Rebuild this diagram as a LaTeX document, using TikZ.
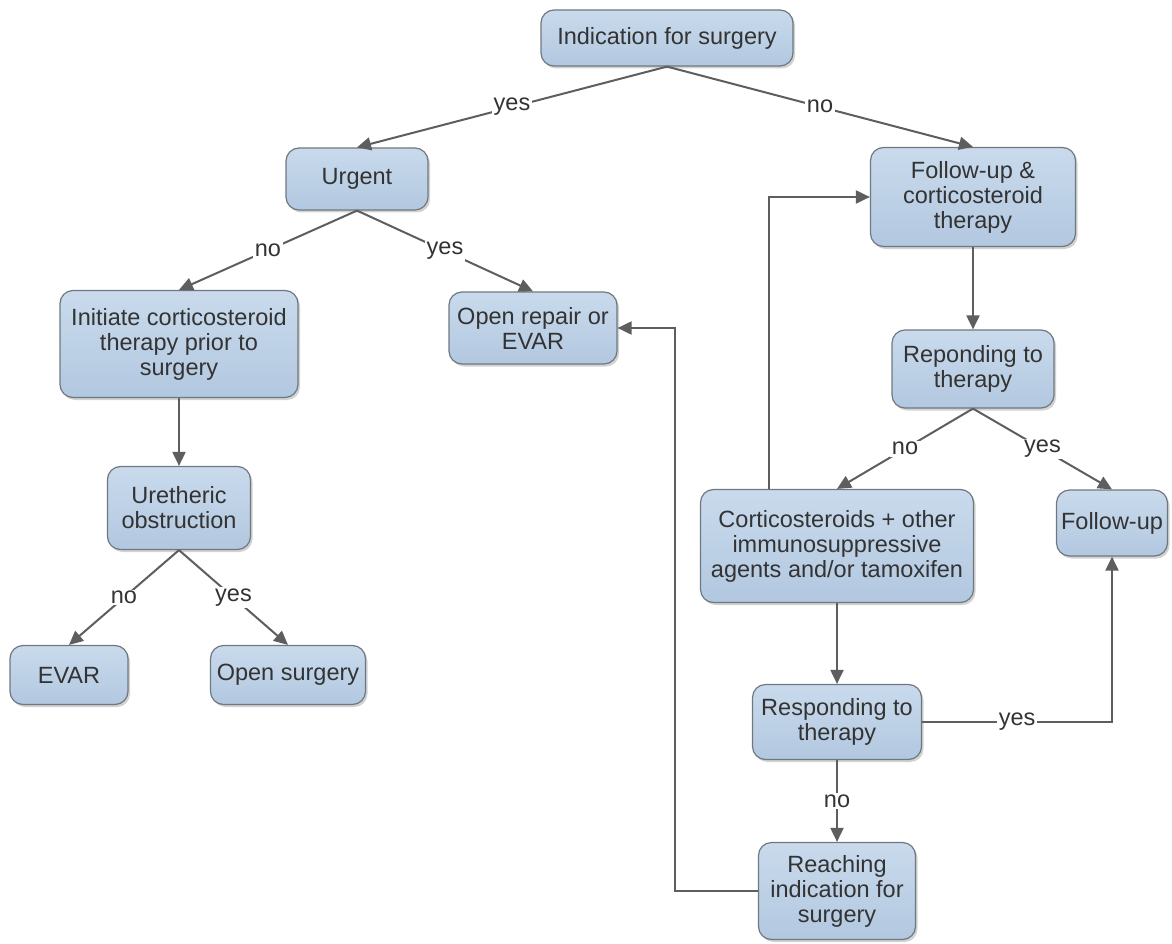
\documentclass[tikz,border=0pt]{standalone}
\usepackage{fontspec}
\setmainfont{Liberation Sans}
\usetikzlibrary{arrows.meta,shadows,calc}
\definecolor{boxtop}{HTML}{C9DAEC}
\definecolor{boxbot}{HTML}{B2C8E0}
\definecolor{boxline}{HTML}{6F7880}
\definecolor{txt}{HTML}{333333}
\definecolor{edge}{HTML}{5E5E5E}
\begin{document}
\begin{tikzpicture}[x=1pt,y=-1pt,
  box/.style={draw=boxline,line width=1.2pt,rounded corners=13pt,
    top color=boxtop,bottom color=boxbot,align=center,text=txt,
    font=\fontsize{23.5}{25}\selectfont,inner sep=2pt,
    drop shadow={opacity=0.35,shadow xshift=2pt,shadow yshift=-2.5pt}},
  conn/.style={draw=edge,line width=2pt,-{Triangle[length=14pt,width=13pt]}},
  lbl/.style={fill=white,inner sep=1.5pt,text=txt,font=\fontsize{23.5}{25}\selectfont}]
\useasboundingbox (0,0) rectangle (1172,944);
\fill[white] (0,0) rectangle (1172,944);
\node[box,minimum width=252pt,minimum height=56pt] (ind) at (667,38) {Indication for surgery};
\node[box,minimum width=142pt,minimum height=62pt] (urg) at (357,179) {Urgent};
\node[box,minimum width=238pt,minimum height=107pt] (init) at (179,344) {Initiate corticosteroid\\therapy prior to\\surgery};
\node[box,minimum width=168pt,minimum height=72pt] (open) at (533,328) {Open repair or\\EVAR};
\node[box,minimum width=205pt,minimum height=99pt] (fuc) at (973,197) {Follow-up \&\\corticosteroid\\therapy};
\node[box,minimum width=162pt,minimum height=78pt] (resp1) at (973,369) {Reponding to\\therapy};
\node[box,minimum width=273pt,minimum height=113pt] (cort) at (837,546) {Corticosteroids + other\\immunosuppressive\\agents and/or tamoxifen};
\node[box,minimum width=111pt,minimum height=66pt] (fu) at (1112,523) {Follow-up};
\node[box,minimum width=143pt,minimum height=83pt] (ure) at (179,508) {Uretheric\\obstruction};
\node[box,minimum width=118pt,minimum height=59pt] (evar) at (69,675) {EVAR};
\node[box,minimum width=155pt,minimum height=59pt] (opens) at (288,675) {Open surgery};
\node[box,minimum width=169pt,minimum height=75pt] (resp2) at (837,722) {Responding to\\therapy};
\node[box,minimum width=157pt,minimum height=97pt] (reach) at (837,891) {Reaching\\indication for\\surgery};

\draw[conn] (ind.south) -- node[lbl] {yes} (urg.north);
\draw[conn] (ind.south) -- node[lbl] {no} (fuc.north);
\draw[conn] (urg.south) -- node[lbl] {no} (init.north);
\draw[conn] (urg.south) -- node[lbl] {yes} (open.north);
\draw[conn] (init.south) -- (ure.north);
\draw[conn] (ure.south) -- node[lbl] {no} (evar.north);
\draw[conn] (ure.south) -- node[lbl] {yes} (opens.north);
\draw[conn] (fuc.south) -- (resp1.north);
\draw[conn] (resp1.south) -- node[lbl] {no} (cort.north);
\draw[conn] (resp1.south) -- node[lbl] {yes} (fu.north);
\draw[conn] ([xshift=-68pt]cort.north) |- (fuc.west);
\draw[conn] (cort.south) -- (resp2.north);
\draw[conn] (resp2.east) -| node[lbl,pos=0.25] {yes} (fu.south);
\draw[conn] (resp2.south) -- node[lbl] {no} (reach.north);
\draw[conn] (reach.west) -- ++(-83,0) |- (open.east);
\end{tikzpicture}
\end{document}
